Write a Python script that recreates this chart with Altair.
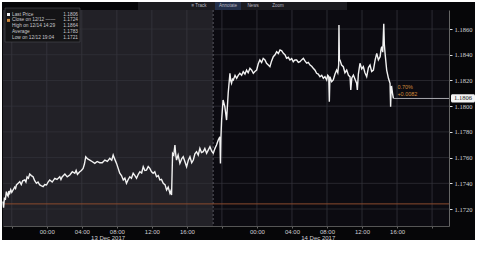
import altair as alt
import pandas as pd

# ---------------- data ----------------
times = [
    "12 19:00", "12 19:04", "12 19:10", "12 19:16", "12 19:23", "12 19:30", "12 19:35", "12 19:40",
    "12 19:46", "12 19:53", "12 20:00", "12 20:09", "12 20:20", "12 20:26", "12 20:32", "12 20:44",
    "12 20:55", "12 21:05", "12 21:15", "12 21:29", "12 21:37", "12 21:45", "12 21:54", "12 22:03",
    "12 22:14", "12 22:26", "12 22:37", "12 22:49", "12 23:00", "12 23:12", "12 23:24", "12 23:35",
    "12 23:46", "12 23:58", "13 00:09", "13 00:20", "13 00:37", "13 00:55", "13 01:10", "13 01:29",
    "13 01:37", "13 01:45", "13 02:04", "13 02:20", "13 02:38", "13 02:55", "13 03:12", "13 03:21",
    "13 03:30", "13 03:46", "13 03:57", "13 04:09", "13 04:18", "13 04:27", "13 04:40", "13 04:55",
    "13 05:10", "13 05:29", "13 05:45", "13 06:03", "13 06:20", "13 06:38", "13 06:55", "13 07:12",
    "13 07:25", "13 07:35", "13 07:45", "13 07:58", "13 08:08", "13 08:20", "13 08:32", "13 08:44",
    "13 08:55", "13 09:06", "13 09:18", "13 09:29", "13 09:40", "13 09:52", "13 10:04", "13 10:15",
    "13 10:27", "13 10:38", "13 10:50", "13 11:01", "13 11:12", "13 11:23", "13 11:35", "13 11:46",
    "13 11:58", "13 12:09", "13 12:20", "13 12:32", "13 12:44", "13 12:55", "13 13:06", "13 13:18",
    "13 13:30", "13 13:41", "13 13:52", "13 14:04", "13 14:10", "13 14:15", "13 14:22", "13 14:30",
    "13 14:38", "13 14:44", "13 14:49", "13 15:00", "13 15:12", "13 15:24", "13 15:35", "13 15:46",
    "13 15:58", "13 16:10", "13 16:21", "13 16:33", "13 16:44", "13 16:55", "13 17:06", "13 17:18",
    "13 17:29", "13 17:40", "13 17:52", "13 18:03", "13 18:15", "13 18:27", "13 18:38", "13 18:50",
    "13 19:01", "13 19:12", "13 19:23", "13 19:35", "13 19:46", "13 19:50", "13 19:53", "13 19:58",
    "13 20:08", "13 20:20", "13 20:32", "13 20:43", "13 20:55", "13 21:00", "13 21:06", "13 21:12",
    "13 21:18", "13 21:30", "13 21:41", "13 21:52", "13 22:03", "13 22:15", "13 22:26", "13 22:38",
    "13 22:49", "13 23:00", "13 23:12", "13 23:24", "13 23:35", "13 23:46", "13 23:58", "14 00:09",
    "14 00:20", "14 00:32", "14 00:43", "14 00:55", "14 01:06", "14 01:18", "14 01:29", "14 01:40",
    "14 01:52", "14 02:04", "14 02:15", "14 02:27", "14 02:38", "14 02:50", "14 03:01", "14 03:12",
    "14 03:23", "14 03:35", "14 03:46", "14 03:58", "14 04:09", "14 04:20", "14 04:32", "14 04:44",
    "14 04:55", "14 05:06", "14 05:18", "14 05:30", "14 05:41", "14 05:52", "14 06:04", "14 06:15",
    "14 06:26", "14 06:38", "14 06:49", "14 07:00", "14 07:12", "14 07:24", "14 07:35", "14 07:46",
    "14 07:58", "14 08:05", "14 08:12", "14 08:16", "14 08:20", "14 08:32", "14 08:43", "14 08:55",
    "14 09:06", "14 09:14", "14 09:20", "14 09:22", "14 09:25", "14 09:29", "14 09:40", "14 09:52",
    "14 10:03", "14 10:15", "14 10:27", "14 10:38", "14 10:43", "14 10:50", "14 11:01", "14 11:12",
    "14 11:23", "14 11:28", "14 11:35", "14 11:46", "14 11:58", "14 12:09", "14 12:20", "14 12:32",
    "14 12:44", "14 12:55", "14 13:06", "14 13:18", "14 13:30", "14 13:41", "14 13:52", "14 14:04",
    "14 14:10", "14 14:15", "14 14:22", "14 14:29", "14 14:33", "14 14:38", "14 14:49", "14 15:01",
    "14 15:12", "14 15:16", "14 15:20", "14 15:23", "14 15:29", "14 15:35",
]
prices = [
    1.1726, 1.1721, 1.1729, 1.1727, 1.17335, 1.1731, 1.1730, 1.1734,
    1.17322, 1.1735, 1.1733, 1.17348, 1.1737, 1.1736, 1.17387, 1.1740,
    1.17412, 1.1739, 1.1742, 1.17426, 1.1741, 1.1745, 1.1744, 1.17472,
    1.1746, 1.17451, 1.1742, 1.17400, 1.1741, 1.17387, 1.1738, 1.17374,
    1.1739, 1.17387, 1.1741, 1.17426, 1.1741, 1.17439, 1.1743, 1.17451,
    1.1743, 1.1745, 1.17472, 1.1745, 1.17465, 1.1749, 1.17478, 1.1750,
    1.1747, 1.17490, 1.1750, 1.17516, 1.1755, 1.17607, 1.1759, 1.17581,
    1.1757, 1.17555, 1.1757, 1.17560, 1.1756, 1.17581, 1.1757, 1.17594,
    1.1758, 1.17620, 1.1759, 1.17555, 1.1752, 1.17478, 1.1746, 1.17426,
    1.1744, 1.17400, 1.1743, 1.17451, 1.1744, 1.17478, 1.1746, 1.17439,
    1.1747, 1.17490, 1.1748, 1.17529, 1.1750, 1.17503, 1.1753, 1.17516,
    1.1749, 1.17478, 1.1749, 1.17451, 1.1746, 1.17426, 1.1743, 1.17400,
    1.1739, 1.17348, 1.1737, 1.17322, 1.1734, 1.17309, 1.17633, 1.1762,
    1.17698, 1.1762, 1.17581, 1.1762, 1.17555, 1.1759, 1.17607, 1.1757,
    1.17529, 1.1758, 1.17607, 1.1756, 1.17581, 1.1763, 1.17646, 1.1762,
    1.17672, 1.1764, 1.17646, 1.1767, 1.17633, 1.1766, 1.17685, 1.1765,
    1.17633, 1.1767, 1.17698, 1.17737, 1.17762, 1.17555, 1.1775, 1.17892,
    1.18048, 1.17996, 1.17892, 1.18100, 1.18256, 1.1820, 1.18178, 1.1821,
    1.18204, 1.1824, 1.18217, 1.1824, 1.18256, 1.1824, 1.18268, 1.1825,
    1.18281, 1.1826, 1.18295, 1.1828, 1.18256, 1.1827, 1.18281, 1.1833,
    1.18359, 1.1834, 1.18372, 1.1836, 1.18334, 1.1832, 1.18307, 1.1835,
    1.18385, 1.1840, 1.18424, 1.1841, 1.18437, 1.1843, 1.18411, 1.1840,
    1.18372, 1.1838, 1.18359, 1.1837, 1.18346, 1.1836, 1.18359, 1.1834,
    1.18346, 1.1836, 1.18372, 1.1835, 1.18334, 1.1834, 1.18320, 1.1831,
    1.18295, 1.1828, 1.18256, 1.1825, 1.18229, 1.1824, 1.18217, 1.1823,
    1.18204, 1.1824, 1.1823, 1.18035, 1.18229, 1.1819, 1.18204, 1.1825,
    1.18281, 1.1826, 1.1832, 1.18632, 1.1836, 1.18359, 1.1832, 1.18307,
    1.1826, 1.18281, 1.1824, 1.18229, 1.18126, 1.1822, 1.18242, 1.1821,
    1.18178, 1.18126, 1.1825, 1.18334, 1.1829, 1.18307, 1.1826, 1.18229,
    1.1830, 1.18320, 1.1827, 1.18281, 1.1836, 1.18411, 1.1836, 1.18385,
    1.1844, 1.18463, 1.1842, 1.1864, 1.1848, 1.18411, 1.18281, 1.18217,
    1.18178, 1.17996, 1.1815, 1.18152, 1.1810, 1.1806,
]

y_ticks = [1.1720, 1.1740, 1.1760, 1.1780, 1.1800, 1.1820, 1.1840, 1.1860]
x_ticks = ["12 20:00", "13 00:00", "13 04:00", "13 08:00", "13 12:00", "13 16:00", "13 20:00",
           "14 00:00", "14 04:00", "14 08:00", "14 12:00", "14 16:00", "14 20:00"]
x_domain = ["12 19:00", "14 21:56"]
y_domain = [1.17068, 1.18748]
session_start = ["12 19:00", "13 19:00"]
session_end = ["13 19:00", "14 21:56"]
session_color = ["#222127", "#0c0b11"]
date_labels = ["13 Dec 2017", "14 Dec 2017"]
date_label_times = ["13 07:00", "14 07:00"]
close_price = 1.1724
last_price = 1.1806
change_pct = "0.70%"
change_abs = "+0.0082"
legend_labels = ["Last Price", "Close on 12/12 ——", "High on 12/14 14:29", "Average", "Low on 12/12 19:04"]
legend_values = ["1.1806", "1.1724", "1.1864", "1.1783", "1.1721"]
toolbar_items = ["≡ Track", "Annotate", "News", "Zoom"]


def iso(s):
    d, hm = s.split(" ")
    return f"2017-12-{d}T{hm}:00Z"


def ms(s):
    return int(pd.Timestamp(iso(s)).value // 10**6)


W, H = 446, 216
FONT = "Liberation Sans"
TXT = "#cfcfd4"

xs = alt.Scale(type="utc", domain=[ms(v) for v in x_domain])
ys = alt.Scale(domain=y_domain, zero=False, nice=False)
rows = alt.Scale(domain=[0, 4], range=[4.5, 28])

price_df = pd.DataFrame({"t": [iso(t) for t in times], "p": prices})
one = alt.Data(values=[{}])

frame = alt.Chart(one).mark_rect(color="#060608").encode(
    x=alt.value(-1), x2=alt.value(472), y=alt.value(-8), y2=alt.value(230))

toolbar_bg = alt.Chart(one).mark_rect(color="#1c1c20").encode(
    x=alt.value(135), x2=alt.value(344), y=alt.value(-8), y2=alt.value(0))
annot_bg = alt.Chart(one).mark_rect(color="#24304a").encode(
    x=alt.value(212), x2=alt.value(238), y=alt.value(-8), y2=alt.value(0))
tb_df = pd.DataFrame({"label": toolbar_items, "px": [196, 225, 250, 275]})
toolbar_txt = alt.Chart(tb_df).mark_text(fontSize=4.5, fill="#b8b8c0", font=FONT, baseline="middle").encode(
    x=alt.X("px:Q", scale=None), y=alt.value(-4), text="label:N")

sess_df = pd.DataFrame({"s": [iso(v) for v in session_start], "e": [iso(v) for v in session_end],
                        "c": session_color})
sessions = alt.Chart(sess_df).mark_rect().encode(
    x=alt.X("s:T", scale=xs, axis=None), x2="e:T", y=alt.value(0), y2=alt.value(H),
    color=alt.Color("c:N", scale=None))

vgrid = alt.Chart(pd.DataFrame({"t": [iso(v) for v in x_ticks]})).mark_rule(
    color="#3a3a42", strokeWidth=0.7).encode(x=alt.X("t:T", scale=xs, axis=None))
hgrid = alt.Chart(pd.DataFrame({"p": y_ticks})).mark_rule(
    color="#34343b", strokeWidth=0.7).encode(y=alt.Y("p:Q", scale=ys, axis=None))

boundary = alt.Chart(pd.DataFrame({"t": [iso(session_end[0])]})).mark_rule(
    color="#6a6a72", strokeWidth=0.8, strokeDash=[2, 2]).encode(x=alt.X("t:T", scale=xs, axis=None))

close_rule = alt.Chart(pd.DataFrame({"p": [close_price]})).mark_rule(
    color="#8a4a2e", strokeWidth=1).encode(y=alt.Y("p:Q", scale=ys, axis=None))

x_axis = alt.Axis(
    values=[ms(v) for v in x_ticks],
    labelExpr="utcFormat(datum.value, '%H') == '20' ? '' : utcFormat(datum.value, '%H:%M')",
    labelColor=TXT, labelFontSize=6, labelFont=FONT, labelPadding=0,
    tickColor="#666", tickSize=2, domainColor="#555", grid=False, title=None, zindex=1)
y_axis = alt.Axis(
    orient="right", values=y_ticks, format=".4f",
    labelColor="#d4d4d8", labelFontSize=6.5, labelFont="Liberation Serif", labelPadding=2,
    tickColor="#dddddd", tickSize=3, domainColor="#666", grid=False, title=None, zindex=1)

line = alt.Chart(price_df).mark_line(color="#f2f2f2", strokeWidth=1.4).encode(
    x=alt.X("t:T", scale=xs, axis=x_axis),
    y=alt.Y("p:Q", scale=ys, axis=y_axis))

last_rule = alt.Chart(pd.DataFrame({"t": [iso(times[-1])], "e": [iso(x_domain[1])], "p": [last_price]})).mark_rule(
    color="#a8a8ae", strokeWidth=1).encode(
    x=alt.X("t:T", scale=xs, axis=None), x2="e:T", y=alt.Y("p:Q", scale=ys, axis=None))

chg_df = pd.DataFrame({"t": [iso(times[-1])], "p": [last_price], "a": [change_pct], "b": [change_abs]})
chg1 = alt.Chart(chg_df).mark_text(fontSize=5.5, fill="#d08a3c", font=FONT, align="left", dx=4, dy=-11).encode(
    x=alt.X("t:T", scale=xs, axis=None), y=alt.Y("p:Q", scale=ys, axis=None), text="a:N")
chg2 = alt.Chart(chg_df).mark_text(fontSize=5.5, fill="#d08a3c", font=FONT, align="left", dx=4, dy=-4).encode(
    x=alt.X("t:T", scale=xs, axis=None), y=alt.Y("p:Q", scale=ys, axis=None), text="b:N")

lp_df = pd.DataFrame({"p": [last_price], "txt": [f"{last_price:.4f}"]})
lp_box = alt.Chart(lp_df).transform_calculate(lo="datum.p - 0.00032", hi="datum.p + 0.00032").mark_rect(
    color="#f4f4f4", cornerRadius=1.5).encode(
    x=alt.value(W + 2), x2=alt.value(W + 26), y=alt.Y("lo:Q", scale=ys, axis=None), y2="hi:Q")
lp_txt = alt.Chart(lp_df).mark_text(fontSize=6.5, fill="#111111", font="Liberation Serif", align="center",
                                    baseline="middle").encode(
    x=alt.value(W + 14), y=alt.Y("p:Q", scale=ys, axis=None), text="txt:N")

dl_df = pd.DataFrame({"t": [iso(v) for v in date_label_times], "label": date_labels})
date_txt = alt.Chart(dl_df).mark_text(fontSize=6, fill=TXT, font=FONT, baseline="middle").encode(
    x=alt.X("t:T", scale=xs, axis=None), y=alt.value(H + 11.5), text="label:N")

# legend box
leg_bg = alt.Chart(one).mark_rect(color="#141416", stroke="#4a4a50", strokeWidth=0.6).encode(
    x=alt.value(2), x2=alt.value(77), y=alt.value(-2), y2=alt.value(32))
leg_df = pd.DataFrame({"label": legend_labels, "val": legend_values, "row": [0, 1, 2, 3, 4]})
leg_lab = alt.Chart(leg_df).mark_text(fontSize=4.8, fill="#c8c8cc", font=FONT, align="left",
                                      baseline="middle").encode(
    x=alt.value(9), y=alt.Y("row:Q", scale=rows, axis=None), text="label:N")
leg_val = alt.Chart(leg_df).mark_text(fontSize=4.8, fill="#c8c8cc", font=FONT, align="right",
                                      baseline="middle").encode(
    x=alt.value(75), y=alt.Y("row:Q", scale=rows, axis=None), text="val:N")
icon_df = pd.DataFrame({"row": [0, 1], "c": ["#f0f0f0", "#d08a3c"]})
leg_icon = alt.Chart(icon_df).mark_square(size=9, opacity=1).encode(
    x=alt.value(5.5), y=alt.Y("row:Q", scale=rows, axis=None), color=alt.Color("c:N", scale=None))

chart = alt.layer(
    frame, toolbar_bg, annot_bg, toolbar_txt,
    sessions, vgrid, hgrid, boundary, close_rule, line, last_rule, chg1, chg2,
    lp_box, lp_txt, date_txt, leg_bg, leg_lab, leg_val, leg_icon,
).resolve_scale(y="independent").resolve_axis(x="independent").properties(
    width=W, height=H,
    autosize=alt.AutoSizeParams(type="none"),
    padding={"left": 3, "top": 10, "right": 51, "bottom": 28},
    background="white",
).configure_view(stroke="#4a4a50", strokeWidth=0.8)

chart.save("out.html", embed_options={"renderer": "svg", "actions": False})
